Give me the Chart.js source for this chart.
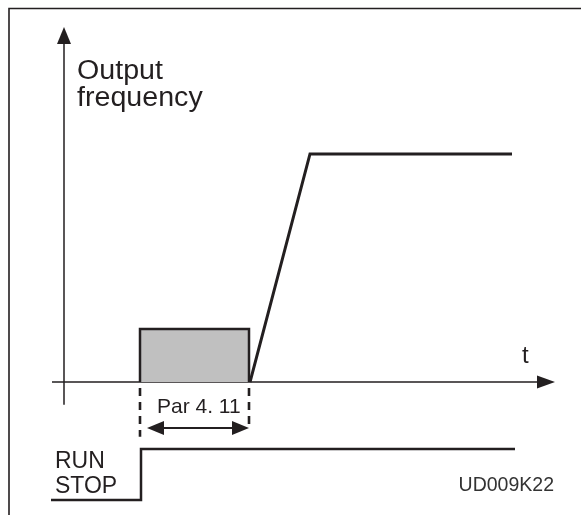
<!DOCTYPE html>
<html>
<head>
<meta charset="utf-8">
<script src="https://cdn.jsdelivr.net/npm/chart.js@4/dist/chart.umd.min.js"></script>
<style>
  html, body { margin: 0; padding: 0; background: #fff; }
  #wrap { width: 581px; height: 515px; }
</style>
</head>
<body>
<div id="wrap"><canvas id="diag" width="581" height="515"></canvas></div>
<script>
// Donnees du diagramme (temps en unites arbitraires, frequence en %)
const rampTime = [18.6, 24.6, 44.8];
const rampFreq = [0, 100, 100];

const delayTime = [7.6, 7.6, 18.5, 18.5];
const delayFreq = [0, 23.2, 23.2, 0];

const runTime = [-1.3, 7.7, 7.7, 45.1];
const runState = [0, 0, 1, 1];
const runLabels = ['RUN', 'STOP'];

const guideTime = [7.6, 18.5];
const guideFrom = [-2.6, -2.6];
const guideTo = [-24, -21];

const spanStart = 7.6;
const spanEnd = 18.5;
const spanLevel = -20.2;
const spanLabel = 'Par 4. 11';

const axisTime = [-1.2, 49.1];
const axisFreq = [-10, 155.7];
const yTitle = ['Output', 'frequency'];
const xTitle = 't';
const figCode = 'UD009K22';

const ink = '#231f20';

function pts(xs, ys) {
    return xs.map((x, i) => ({ x: x, y: ys[i] }));
}

function arrowHead(ctx, x, y, dx, dy, len, half) {
    // triangle pointe en (x,y), direction (dx,dy)
    ctx.beginPath();
    ctx.moveTo(x, y);
    ctx.lineTo(x - dx * len - dy * half, y - dy * len + dx * half);
    ctx.lineTo(x - dx * len + dy * half, y - dy * len - dx * half);
    ctx.closePath();
    ctx.fill();
}

// Dessin du cadre, des axes et des textes
const decor = {
    id: 'decor',
    beforeDatasetsDraw(chart) {
        const ctx = chart.ctx;
        const xs = chart.scales.x, ys = chart.scales.y;
        ctx.save();
        ctx.strokeStyle = ink;
        ctx.fillStyle = ink;

        // cadre (haut et gauche)
        ctx.lineWidth = 1.6;
        ctx.beginPath();
        ctx.moveTo(9, 515);
        ctx.lineTo(9, 8.5);
        ctx.lineTo(581, 8.5);
        ctx.stroke();

        // axes
        const x0 = xs.getPixelForValue(0), y0 = ys.getPixelForValue(0);
        const xEnd = xs.getPixelForValue(axisTime[1]);
        const yTop = ys.getPixelForValue(axisFreq[1]);
        ctx.lineWidth = 1.5;
        ctx.beginPath();
        ctx.moveTo(xs.getPixelForValue(axisTime[0]), y0);
        ctx.lineTo(xEnd - 10, y0);
        ctx.moveTo(x0, ys.getPixelForValue(axisFreq[0]));
        ctx.lineTo(x0, yTop + 10);
        ctx.stroke();
        arrowHead(ctx, xEnd, y0, 1, 0, 18, 6.5);
        arrowHead(ctx, x0, yTop, 0, -1, 17, 7);
        ctx.restore();
    },
    afterDatasetsDraw(chart) {
        const ctx = chart.ctx;
        const xs = chart.scales.x, ys = chart.scales.y, ss = chart.scales.ySig;
        ctx.save();
        ctx.fillStyle = ink;
        ctx.strokeStyle = ink;
        ctx.textBaseline = 'alphabetic';

        // titre axe vertical
        const x0 = xs.getPixelForValue(0);
        ctx.font = '27px "Liberation Sans", Arial, sans-serif';
        yTitle.forEach((s, i) => {
            ctx.save();
            ctx.translate(x0 + 13, 79 + i * 27);
            ctx.scale(1.06, 1);
            ctx.fillText(s, 0, 0);
            ctx.restore();
        });

        // t
        ctx.font = '24px "Liberation Sans", Arial, sans-serif';
        ctx.fillText(xTitle, xs.getPixelForValue(45.8), ys.getPixelForValue(8.3));

        // fleche double Par 4.11
        const a = xs.getPixelForValue(spanStart) + 7;
        const b = xs.getPixelForValue(spanEnd);
        const yl = ys.getPixelForValue(spanLevel);
        ctx.lineWidth = 2;
        ctx.beginPath();
        ctx.moveTo(a + 14, yl);
        ctx.lineTo(b - 14, yl);
        ctx.stroke();
        arrowHead(ctx, a, yl, -1, 0, 17, 7);
        arrowHead(ctx, b, yl, 1, 0, 17, 7);
        ctx.font = '21px "Liberation Sans", Arial, sans-serif';
        ctx.fillText(spanLabel, xs.getPixelForValue(spanStart) + 17, 413);

        // RUN / STOP
        ctx.font = '23px "Liberation Sans", Arial, sans-serif';
        ctx.fillText(runLabels[0], 55, ss.getPixelForValue(1) + 19);
        ctx.fillText(runLabels[1], 55, ss.getPixelForValue(0) - 7);

        // code figure
        ctx.fillStyle = '#333';
        ctx.font = '19.5px "Liberation Sans", Arial, sans-serif';
        ctx.textAlign = 'right';
        ctx.fillText(figCode, 554, 491);
        ctx.restore();
    }
};

const datasets = [
    {
        data: pts(delayTime, delayFreq),
        borderColor: ink,
        backgroundColor: '#c0c0c0',
        borderWidth: 2.5,
        fill: 'origin',
        yAxisID: 'y'
    },
    {
        data: pts(rampTime, rampFreq),
        borderColor: ink,
        borderWidth: 3,
        fill: false,
        yAxisID: 'y'
    },
    {
        data: pts(runTime, runState),
        borderColor: ink,
        borderWidth: 2.5,
        fill: false,
        yAxisID: 'ySig'
    }
];
guideTime.forEach((t, i) => {
    datasets.push({
        data: [{ x: t, y: guideFrom[i] }, { x: t, y: guideTo[i] }],
        borderColor: ink,
        borderWidth: 2.6,
        borderDash: [8, 6],
        fill: false,
        yAxisID: 'y'
    });
});

new Chart(document.getElementById('diag'), {
    type: 'line',
    data: { datasets: datasets },
    options: {
        responsive: false,
        animation: false,
        devicePixelRatio: 1,
        layout: { padding: 0 },
        elements: {
            point: { radius: 0 },
            line: { tension: 0, borderJoinStyle: 'miter', borderCapStyle: 'butt' }
        },
        plugins: {
            legend: { display: false },
            tooltip: { enabled: false },
            title: { display: false }
        },
        scales: {
            x: { type: 'linear', min: -6.4, max: 51.7, display: false },
            y: { type: 'linear', min: -58.3, max: 167.5, display: false },
            ySig: { type: 'linear', min: -0.294, max: 9.8, display: false }
        }
    },
    plugins: [decor]
});
</script>
</body>
</html>
